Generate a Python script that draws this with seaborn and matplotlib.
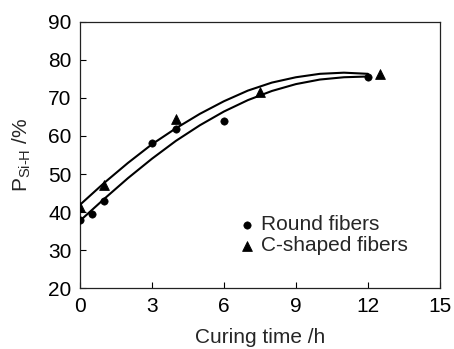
import numpy as np
import pandas as pd
import matplotlib
matplotlib.use('Agg')
import matplotlib.pyplot as plt
import seaborn as sns

# measured points
t_round = [0, 0.5, 1, 3, 4, 6, 12]
p_round = [37.9, 39.4, 42.9, 58.1, 61.7, 63.9, 75.5]
t_cshape = [0, 1, 4, 7.5, 12.5]
p_cshape = [41.3, 47.1, 64.4, 71.6, 76.2]

# fitted curves
t_fit = [0, 1, 2, 3, 4, 5, 6, 7, 8, 9, 10, 11, 12]
fit_round = [37.7, 43.4, 48.9, 54.0, 58.7, 62.8, 66.4, 69.4, 71.8, 73.6, 74.8, 75.4, 75.6]
fit_cshape = [41.9, 47.6, 52.9, 57.8, 62.0, 65.8, 69.1, 71.9, 74.0, 75.4, 76.3, 76.6, 76.3]

sns.set_style('ticks')
plt.rcParams['font.family'] = ['Liberation Sans', 'DejaVu Sans']
plt.rcParams['mathtext.fontset'] = 'custom'
plt.rcParams['mathtext.rm'] = 'Liberation Sans'

fig = plt.figure(figsize=(4.54, 3.49), dpi=100)
ax = fig.add_axes([0.176, 0.174, 0.793, 0.764])

sns.lineplot(x=t_fit, y=fit_round, ax=ax, color='black', linewidth=1.5)
sns.lineplot(x=t_fit, y=fit_cshape, ax=ax, color='black', linewidth=1.5)

sns.scatterplot(x=t_round, y=p_round, ax=ax, marker='o', color='black', s=28,
                edgecolor='black', label='Round fibers', zorder=5)
sns.scatterplot(x=t_cshape, y=p_cshape, ax=ax, marker='^', color='black', s=50,
                edgecolor='black', label='C-shaped fibers', zorder=5)

ax.set_xlim(0, 15)
ax.set_ylim(20, 90)
ax.set_xticks([0, 3, 6, 9, 12, 15])
ax.set_yticks([20, 30, 40, 50, 60, 70, 80, 90])
ax.tick_params(direction='in', length=4.5, width=0.8, labelsize=15, pad=6, colors='black')
for s in ax.spines.values():
    s.set_linewidth(0.9)
    s.set_color('#222222')

ax.set_xlabel('Curing time /h', fontsize=15, labelpad=9)
ax.set_ylabel(r'P$_{\mathregular{Si\text{-}H}}$ /%', fontsize=15, labelpad=11)

ax.legend(loc='lower left', bbox_to_anchor=(0.40, 0.085), frameon=False, fontsize=15,
          handletextpad=0.1, labelspacing=0.1, borderpad=0, handlelength=1.2)

fig.savefig('out.png', dpi=100)
